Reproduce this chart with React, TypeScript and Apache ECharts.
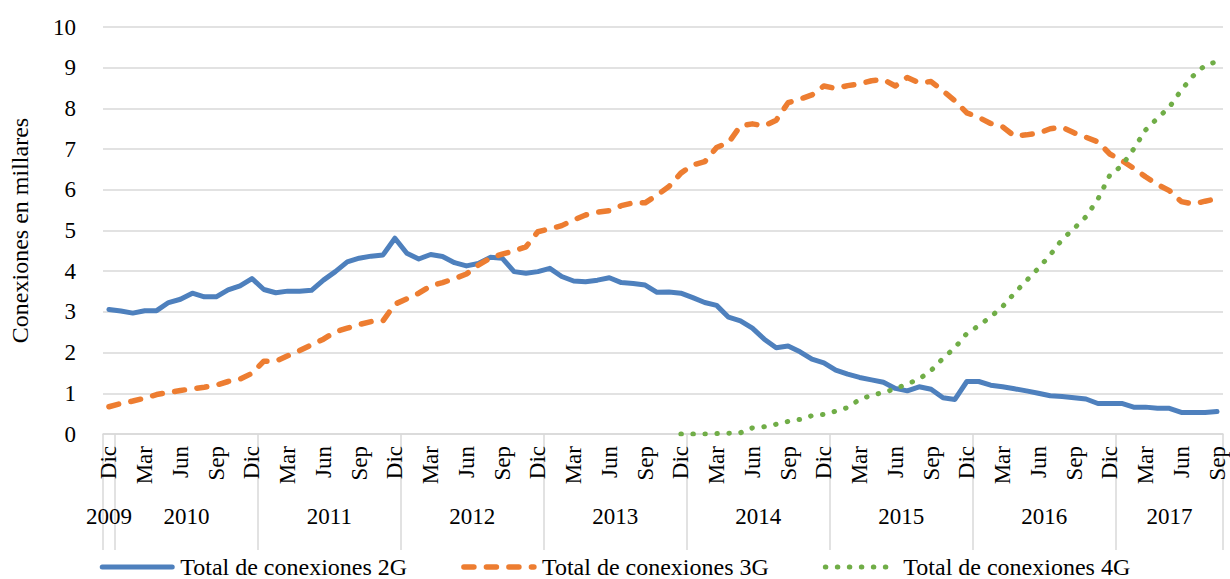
import React, { useEffect, useRef } from 'react';
import * as echarts from 'echarts';

const monthNames = ['Ene', 'Feb', 'Mar', 'Abr', 'May', 'Jun', 'Jul', 'Ago', 'Sep', 'Oct', 'Nov', 'Dic'];
const shownMonths = ['Dic', 'Mar', 'Jun', 'Sep'];
const firstYear = 2009;
const lastYear = 2017;
const lastMonthIndex = 8; // Sep 2017

const categories: string[] = ['Dic 2009'];
for (let y = 2010; y <= lastYear; y++) {
  for (let m = 0; m < 12; m++) {
    if (y === lastYear && m > lastMonthIndex) break;
    categories.push(`${monthNames[m]} ${y}`);
  }
}

const conexiones2G = [
  3.06, 3.02, 2.97, 3.03, 3.03, 3.23, 3.31, 3.46, 3.37, 3.37, 3.54, 3.64, 3.82,
  3.55, 3.47, 3.51, 3.51, 3.53, 3.78, 3.99, 4.23, 4.32, 4.37, 4.40, 4.81,
  4.44, 4.30, 4.41, 4.36, 4.21, 4.13, 4.19, 4.34, 4.32, 3.99, 3.95, 3.99,
  4.07, 3.87, 3.76, 3.74, 3.78, 3.84, 3.72, 3.70, 3.66, 3.48, 3.49, 3.46,
  3.35, 3.23, 3.16, 2.87, 2.78, 2.60, 2.33, 2.12, 2.16, 2.02, 1.84, 1.75,
  1.57, 1.47, 1.39, 1.33, 1.27, 1.12, 1.06, 1.16, 1.10, 0.89, 0.85, 1.29,
  1.29, 1.20, 1.16, 1.11, 1.06, 1.00, 0.94, 0.92, 0.89, 0.86, 0.75, 0.75,
  0.75, 0.66, 0.66, 0.63, 0.63, 0.53, 0.53, 0.53, 0.55,
];

const conexiones3G = [
  0.67, 0.75, 0.81, 0.88, 0.97, 1.02, 1.07, 1.11, 1.15, 1.20, 1.29, 1.35, 1.49,
  1.79, 1.79, 1.92, 2.05, 2.19, 2.33, 2.51, 2.60, 2.69, 2.76, 2.78, 3.19,
  3.32, 3.46, 3.64, 3.72, 3.82, 3.93, 4.15, 4.32, 4.42, 4.50, 4.60, 4.97,
  5.04, 5.12, 5.26, 5.38, 5.45, 5.49, 5.61, 5.68, 5.68, 5.87, 6.08, 6.41,
  6.61, 6.69, 7.04, 7.16, 7.57, 7.62, 7.57, 7.71, 8.14, 8.23, 8.33, 8.55,
  8.49, 8.56, 8.60, 8.68, 8.71, 8.55, 8.76, 8.63, 8.66, 8.43, 8.19, 7.89,
  7.78, 7.63, 7.55, 7.32, 7.35, 7.39, 7.50, 7.54, 7.40, 7.29, 7.18, 6.88,
  6.72, 6.53, 6.32, 6.13, 5.98, 5.71, 5.65, 5.72, 5.78,
];

const conexiones4G = [
  null, null, null, null, null, null, null, null, null, null, null, null, null,
  null, null, null, null, null, null, null, null, null, null, null, null,
  null, null, null, null, null, null, null, null, null, null, null, null,
  null, null, null, null, null, null, null, null, null, null, null, 0.0,
  0.0, 0.0, 0.01, 0.02, 0.03, 0.15, 0.18, 0.24, 0.31, 0.36, 0.45, 0.48,
  0.56, 0.65, 0.85, 0.95, 1.02, 1.11, 1.23, 1.35, 1.56, 1.86, 2.12, 2.47,
  2.66, 2.88, 3.13, 3.46, 3.77, 4.07, 4.40, 4.78, 5.05, 5.34, 5.77, 6.36,
  6.59, 7.00, 7.47, 7.76, 8.03, 8.45, 8.80, 9.06, 9.15,
];

const seriesNames = ['Total de conexiones 2G', 'Total de conexiones 3G', 'Total de conexiones 4G'];
const colors = ['#4e80bd', '#ed7d31', '#70ad47'];

const FONT = "'Liberation Serif', 'Times New Roman', serif";
const GRID_COLOR = '#d9d9d9';
const TICK_FONT = 23;
const BIG_FONT = 24;

const lineStyles = [
  { color: colors[0], width: 5, type: 'solid', join: 'round', cap: 'round' },
  { color: colors[1], width: 5.5, type: [10, 12.5], cap: 'round', join: 'round' },
  { color: colors[2], width: 5, type: [0.5, 11.5], cap: 'round', join: 'round' },
];

// Year spans on the category axis (in band units)
const yearStarts: number[] = [];
const yearList: number[] = [];
for (let y = firstYear; y <= lastYear; y++) {
  const idx = categories.findIndex((c) => c.endsWith(String(y)));
  yearStarts.push(idx);
  yearList.push(y);
}
const yearBounds = [...yearStarts, categories.length];
const yearMids = yearList.map((_, k) => (yearBounds[k] + yearBounds[k + 1]) / 2);

export default function App() {
  const ref = useRef<HTMLDivElement>(null);
  useEffect(() => {
    const chart = echarts.init(ref.current!, null, { renderer: 'svg' });
    chart.setOption({
      animation: false,
      textStyle: { fontFamily: FONT, color: '#000' },
      grid: { left: 94, right: 7, top: 27, bottom: 145, containLabel: false },
      legend: {
        data: seriesNames.map((n, k) => ({
          name: n,
          itemStyle: { opacity: 0 },
          lineStyle: lineStyles[k],
        })),
        left: 'center',
        top: 550,
        itemWidth: 70,
        itemHeight: 10,
        itemGap: 54,
        textStyle: { fontFamily: FONT, fontSize: BIG_FONT, color: '#000', padding: [0, 0, 0, 3] },
      },
      xAxis: [
        {
          type: 'category',
          data: categories,
          position: 'bottom',
          boundaryGap: true,
          axisLine: { show: true, lineStyle: { color: GRID_COLOR, width: 1.5 } },
          axisTick: { show: false },
          axisLabel: {
            rotate: 90,
            margin: 12,
            fontFamily: FONT,
            fontSize: TICK_FONT,
            color: '#000',
            interval: (index: number, value: string) => shownMonths.includes(value.split(' ')[0]),
            formatter: (value: string) => value.split(' ')[0],
          },
          splitLine: { show: false },
        },
        {
          type: 'value',
          position: 'bottom',
          min: 0,
          max: categories.length,
          axisLine: { show: false },
          splitLine: { show: false },
          axisTick: {
            show: true,
            length: 116,
            customValues: yearBounds,
            lineStyle: { color: GRID_COLOR, width: 1.5 },
          },
          axisLabel: {
            show: true,
            margin: 71,
            fontFamily: FONT,
            fontSize: TICK_FONT,
            color: '#000',
            customValues: yearMids,
            formatter: (val: number) => {
              const k = yearMids.findIndex((m) => Math.abs(m - val) < 1e-6);
              return k >= 0 ? String(yearList[k]) : '';
            },
          },
        },
      ],
      yAxis: {
        type: 'value',
        min: 0,
        max: 10,
        interval: 1,
        name: 'Conexiones en millares',
        nameLocation: 'middle',
        nameGap: 71,
        nameTextStyle: { fontFamily: FONT, fontSize: BIG_FONT, color: '#000' },
        axisLine: { show: false },
        axisTick: { show: false },
        axisLabel: { margin: 27, fontFamily: FONT, fontSize: TICK_FONT, color: '#000' },
        splitLine: { show: true, lineStyle: { color: GRID_COLOR, width: 1.5 } },
      },
      series: [
        {
          name: seriesNames[0],
          type: 'line',
          data: conexiones2G,
          symbol: 'none',
          color: colors[0],
          lineStyle: lineStyles[0],
        },
        {
          name: seriesNames[1],
          type: 'line',
          data: conexiones3G,
          symbol: 'none',
          color: colors[1],
          lineStyle: lineStyles[1],
        },
        {
          name: seriesNames[2],
          type: 'line',
          data: conexiones4G,
          symbol: 'none',
          color: colors[2],
          lineStyle: lineStyles[2],
        },
      ],
    });
    return () => chart.dispose();
  }, []);
  return (
    <div
      ref={ref}
      style={{ position: 'absolute', left: 0, top: 0, width: 1230, height: 579 }}
    />
  );
}
